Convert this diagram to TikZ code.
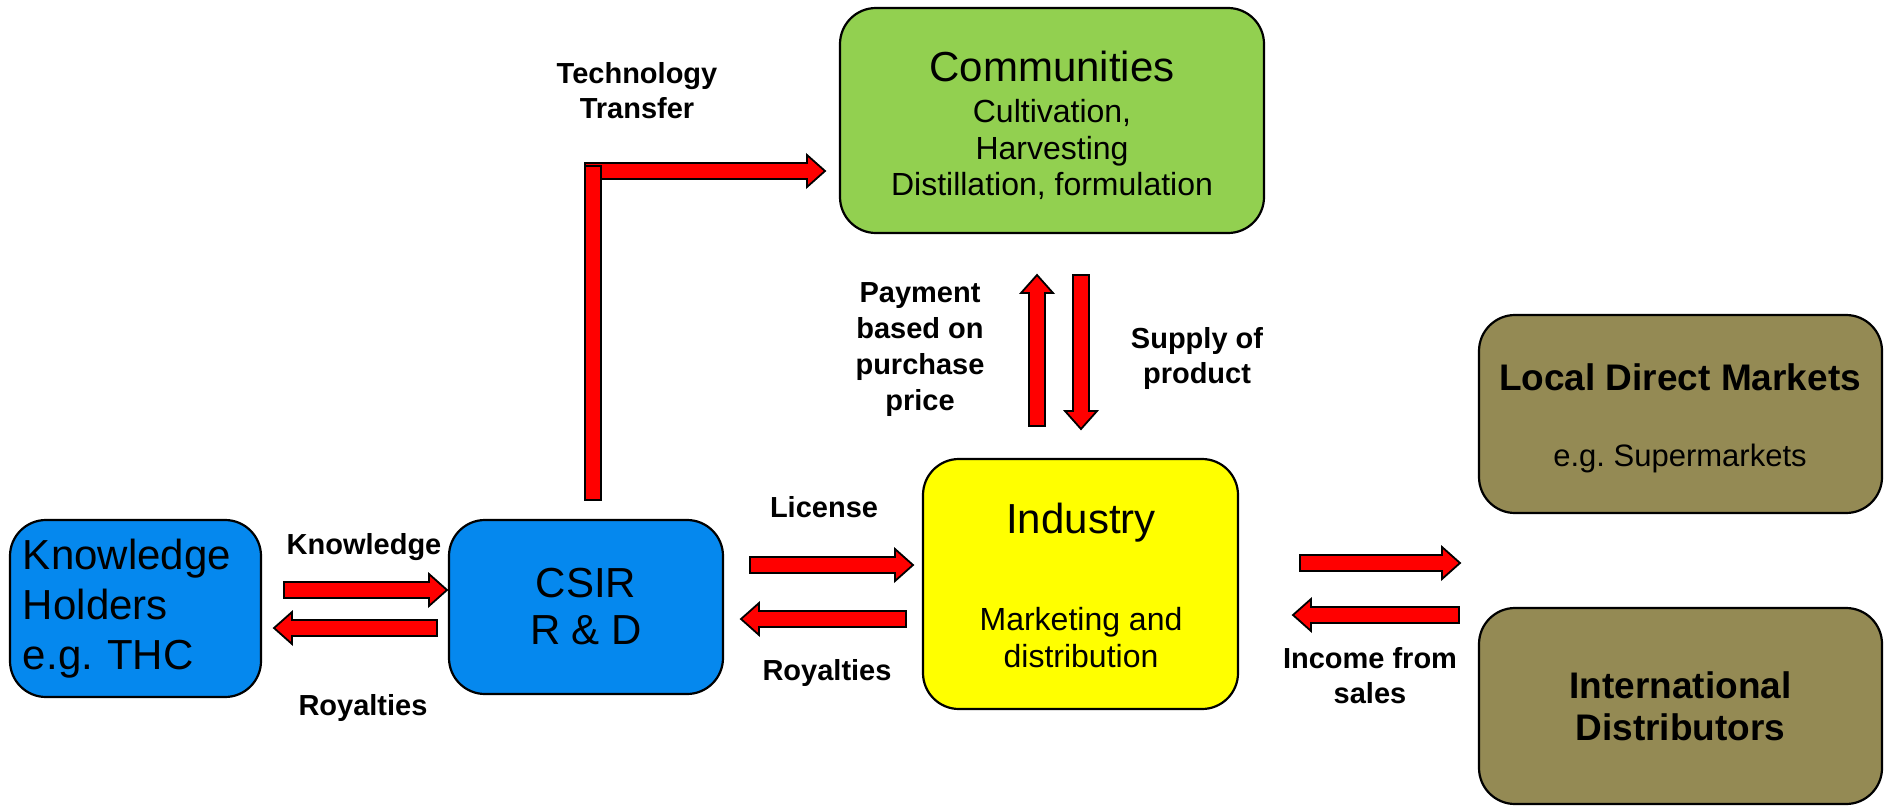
\documentclass[tikz,border=0pt]{standalone}
\usepackage{fontspec}
\setmainfont{Liberation Sans}
\usetikzlibrary{calc}
\frenchspacing
\definecolor{blueK}{RGB}{5,136,238}
\definecolor{greenC}{RGB}{146,208,80}
\definecolor{yellowI}{RGB}{255,255,0}
\definecolor{oliveM}{RGB}{148,138,84}
\definecolor{redA}{RGB}{255,0,0}
\newcommand\fs[2]{\fontsize{#1}{#2}\selectfont}
\newcommand\blkR[2]{\draw[barrow] ($(#1)+(0,8)$) -- ($(#2)+(-18,8)$) -- ($(#2)+(-18,16)$) -- (#2) -- ($(#2)+(-18,-16)$) -- ($(#2)+(-18,-8)$) -- ($(#1)+(0,-8)$) -- cycle;}
\newcommand\blkL[2]{\draw[barrow] ($(#1)+(0,8)$) -- ($(#2)+(18,8)$) -- ($(#2)+(18,16)$) -- (#2) -- ($(#2)+(18,-16)$) -- ($(#2)+(18,-8)$) -- ($(#1)+(0,-8)$) -- cycle;}
\newcommand\blkU[2]{\draw[barrow] ($(#1)+(-8,0)$) -- ($(#2)+(-8,-18)$) -- ($(#2)+(-16,-18)$) -- (#2) -- ($(#2)+(16,-18)$) -- ($(#2)+(8,-18)$) -- ($(#1)+(8,0)$) -- cycle;}
\newcommand\blkD[2]{\draw[barrow] ($(#1)+(-8,0)$) -- ($(#2)+(-8,18)$) -- ($(#2)+(-16,18)$) -- (#2) -- ($(#2)+(16,18)$) -- ($(#2)+(8,18)$) -- ($(#1)+(8,0)$) -- cycle;}
\begin{document}
\begin{tikzpicture}[x=1pt,y=1pt,
  box/.style={draw=black, line width=2.2pt, rounded corners=36pt, inner sep=0pt},
  barrow/.style={draw=black, fill=redA, line width=1.8pt, line join=miter},
  lbl/.style={font=\fs{29}{35}\bfseries, align=center, inner sep=0pt},
  big/.style={font=\fs{42}{48}, align=center, inner sep=0pt},
  sub/.style={font=\fs{32}{37}, align=center, inner sep=0pt}]
\useasboundingbox (0,0) rectangle (1884,-806);
% boxes
\node[box, fill=blueK, minimum width=251, minimum height=177, text width=225, align=left, font=\fs{42}{50}] (kh) at (135.5,-608.5) {Knowledge\\Holders\\e.g.\ THC};
\node[box, fill=blueK, minimum width=274, minimum height=174, font=\fs{42}{47}, align=center] (csir) at (586,-607) {CSIR\\R \& D};
\node[box, fill=greenC, minimum width=424, minimum height=225] (comm) at (1052,-120.5) {};
\node[big] (commT) at (1052,-66) {Communities};
\node[sub, font=\fs{32}{36.5}] (commS) at (1052,-149.5) {Cultivation,\\Harvesting\\Distillation, formulation};
\node[box, fill=yellowI, minimum width=315, minimum height=250] (ind) at (1080.5,-584) {};
\node[big] (indT) at (1081,-523) {Industry};
\node[sub] (indS) at (1081,-637.5) {Marketing and\\distribution};
\node[box, fill=oliveM, minimum width=403, minimum height=198] (ldm) at (1680.5,-414) {};
\node[font=\fs{37}{42}\bfseries, inner sep=0pt] (ldmT) at (1680,-377) {Local Direct Markets};
\node[font=\fs{31}{36}, inner sep=0pt] (ldmS) at (1680,-458) {e.g.\ Supermarkets};
\node[box, fill=oliveM, minimum width=403, minimum height=196, font=\fs{37}{42}\bfseries, align=center] (intd) at (1680.5,-706) {International\\Distributors};
% labels
\node[lbl] (lKnow) at (364,-547) {Knowledge};
\node[lbl] (lRoy1) at (363,-708) {Royalties};
\node[lbl] (lTech) at (637,-91) {Technology\\Transfer};
\node[lbl] (lLic) at (824,-507) {License};
\node[lbl] (lRoy2) at (827,-673) {Royalties};
\node[lbl, font=\fs{29}{36}\bfseries] (lPay) at (920,-350) {Payment\\based on\\purchase\\price};
\node[lbl] (lSup) at (1197,-358) {Supply of\\product};
\node[lbl] (lInc) at (1370,-676) {Income from\\sales};
% arrow end points
\coordinate (k1) at (284,-590); \coordinate (k2) at (447,-590);
\coordinate (r1) at (437,-628); \coordinate (r2) at (274,-628);
\coordinate (l1) at (750,-565); \coordinate (l2) at (913,-565);
\coordinate (y1) at (906,-619); \coordinate (y2) at (741,-619);
\coordinate (s1) at (1300,-563); \coordinate (s2) at (1460,-563);
\coordinate (i1) at (1459,-615); \coordinate (i2) at (1293,-615);
\coordinate (p1) at (1037,-426); \coordinate (p2) at (1037,-275);
\coordinate (d1) at (1081,-275); \coordinate (d2) at (1081,-429);
\coordinate (tv1) at (593,-500); \coordinate (tv2) at (593,-166);
\coordinate (th1) at (585,-171); \coordinate (th2) at (825,-171);
% arrows
\blkR{k1}{k2}
\blkL{r1}{r2}
\blkR{l1}{l2}
\blkL{y1}{y2}
\blkR{s1}{s2}
\blkL{i1}{i2}
\blkU{p1}{p2}
\blkD{d1}{d2}
\blkR{th1}{th2}
\draw[barrow] ($(tv1)+(-8,0)$) rectangle ($(tv2)+(8,0)$);
\end{tikzpicture}
\end{document}
